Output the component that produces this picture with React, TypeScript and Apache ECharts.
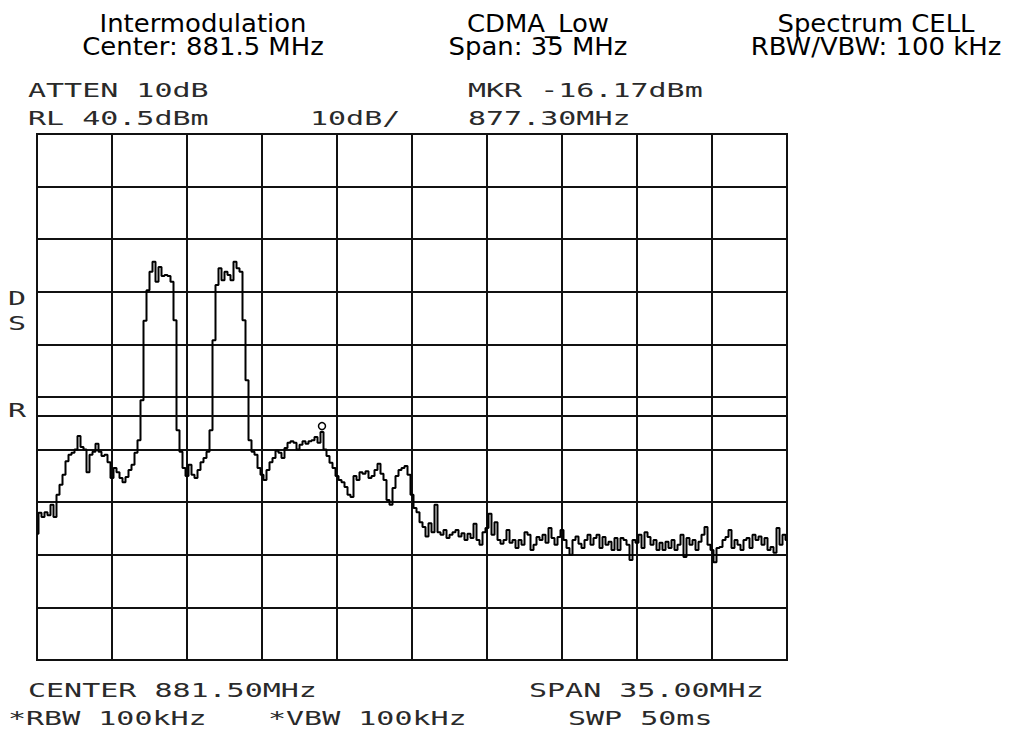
import React, { useEffect, useRef } from "react";
import * as echarts from "echarts";

// Sweep settings (from the analyzer annotation)
const START_MHZ = 864;
const STOP_MHZ = 899;
const REF_LEVEL_DBM = 40.5;
const DB_PER_DIV = 10;
const DIVISIONS = 10;
const DISPLAY_LINE_DBM = -13.1;
const MARKER_MHZ = 877.3;
const MARKER_DBM = -16.17;

// Trace amplitude (dBm), uniformly spaced sweep points from START to STOP
const traceDbm = [
  -35.5, -31.5, -32.3, -31.4, -32.0, -30.0, -32.3, -28.1, -26.2, -24.3,
  -21.7, -20.5, -20.1, -19.5, -16.9, -19.0, -19.5, -23.8, -20.5, -19.9,
  -18.4, -19.9, -20.7, -20.5, -21.9, -24.9, -23.0, -23.8, -24.9, -25.7,
  -24.7, -23.4, -22.4, -20.1, -17.7, -10.1, 5.0, 10.8, 14.3, 16.2,
  12.4, 15.2, 13.5, 13.7, 13.5, 12.4, 5.1, -15.8, -19.9, -23.0,
  -24.5, -22.4, -24.3, -24.9, -23.4, -21.9, -21.1, -19.9, -15.8, 1.3,
  11.8, 15.0, 12.7, 14.3, 13.7, 12.7, 16.2, 15.0, 14.3, 5.1,
  -6.3, -17.7, -19.9, -20.5, -23.0, -24.3, -25.3, -23.4, -21.9, -21.1,
  -19.7, -20.1, -21.1, -19.2, -18.2, -17.9, -18.2, -19.5, -18.6, -17.9,
  -18.4, -17.9, -17.7, -17.1, -18.2, -16.17, -19.5, -20.7, -22.0, -23.0,
  -24.5, -25.3, -25.7, -26.6, -28.1, -28.5, -24.5, -25.3, -23.8, -24.1,
  -23.6, -24.9, -24.5, -23.4, -22.2, -24.1, -25.3, -29.1, -30.0, -26.8,
  -24.5, -23.4, -23.0, -22.6, -24.3, -28.1, -30.6, -31.4, -33.3, -34.2,
  -36.0, -33.5, -35.2, -30.0, -35.2, -35.7, -34.8, -36.3, -35.7, -35.2,
  -34.8, -36.0, -35.4, -36.7, -35.5, -36.3, -33.6, -36.7, -37.6, -35.2,
  -34.4, -31.7, -35.7, -33.3, -36.7, -37.4, -36.7, -34.8, -37.2, -36.7,
  -38.2, -36.7, -37.6, -35.2, -35.7, -38.6, -37.6, -36.1, -36.7, -35.7,
  -37.2, -34.4, -36.3, -37.6, -36.1, -34.8, -36.7, -38.2, -39.5, -36.7,
  -36.0, -37.4, -38.2, -36.7, -35.7, -37.6, -36.3, -35.7, -38.2, -36.1,
  -37.6, -37.0, -38.6, -36.3, -38.6, -36.3, -36.7, -37.6, -40.5, -36.7,
  -37.2, -35.7, -38.2, -35.2, -36.1, -37.6, -36.7, -38.6, -37.2, -38.6,
  -37.0, -38.2, -36.7, -38.6, -37.6, -35.7, -39.9, -36.3, -37.6, -36.7,
  -38.6, -37.0, -35.7, -34.2, -37.6, -38.6, -40.9, -38.2, -38.0, -36.7,
  -36.1, -34.8, -38.2, -36.7, -37.6, -38.6, -36.7, -36.3, -38.2, -35.7,
  -36.7, -36.0, -37.6, -36.3, -38.6, -38.0, -39.1, -34.4, -37.6, -35.7,
  -36.7,
];

// Header texts
const titleColumns = [
  ["Intermodulation", "Center: 881.5 MHz"],
  ["CDMA_Low", "Span: 35 MHz"],
  ["Spectrum CELL", "RBW/VBW: 100 kHz"],
];
const annotTop = ["ATTEN 10dB", "RL 40.5dBm", "10dB/", "MKR -16.17dBm", "877.30MHz"];
const annotBottom = ["CENTER 881.50MHz", "SPAN 35.00MHz", "*RBW 100kHz", "*VBW 100kHz", "SWP 50ms"];
const sideMarks = ["D", "S", "R"];

export default function App() {
  const ref = useRef<HTMLDivElement>(null);
  useEffect(() => {
    document.body.style.margin = "0";
    const chart = echarts.init(ref.current!, null, { renderer: "svg" });
    const n = traceDbm.length;
    const data = traceDbm.map((v, i) => [START_MHZ + ((STOP_MHZ - START_MHZ) * i) / (n - 1), v]);

    const titleX = [203, 538, 876];
    const titles: any[] = titleColumns.map((col, c) => ({
      type: "text",
      x: titleX[c],
      y: 35,
      scaleX: 1.08,
      style: {
        text: col.join("\n"),
        fontFamily: "DejaVu Sans",
        fontSize: 24,
        lineHeight: 23,
        fill: "#000",
        textAlign: "center",
        textVerticalAlign: "middle",
      },
    }));

    const hp = (text: string, x: number, y: number) => ({
      type: "text",
      x,
      y,
      scaleX: 1.5,
      style: {
        text,
        fontFamily: "DejaVu Sans Mono",
        fontSize: 20,
        fill: "#2a2a2a",
        textAlign: "left",
        textVerticalAlign: "middle",
      },
    });

    const hpTexts = [
      hp(annotTop[0], 28, 90),
      hp(annotTop[1], 28, 118),
      hp(annotTop[2], 310, 118),
      hp(annotTop[3], 468, 90),
      hp(annotTop[4], 468, 118),
      hp(annotBottom[0], 28, 690),
      hp(annotBottom[1], 529, 690),
      hp(annotBottom[2], 8, 718),
      hp(annotBottom[3], 268, 718),
      hp(annotBottom[4], 568, 718),
      hp(sideMarks[0], 8, 298),
      hp(sideMarks[1], 8, 323),
      hp(sideMarks[2], 8, 410),
    ];

    const divAxis = {
      type: "value",
      min: 0,
      max: DIVISIONS,
      interval: 1,
      axisLabel: { show: false },
      axisTick: { show: false },
      axisLine: { show: false },
      splitLine: { show: true, lineStyle: { color: "#111", width: 2 } },
    };

    chart.setOption({
      animation: false,
      backgroundColor: "#fff",
      grid: {
        left: 37,
        top: 134,
        width: 750,
        height: 526,
        show: true,
        borderColor: "#111",
        borderWidth: 2,
        backgroundColor: "#fff",
      },
      xAxis: [
        { type: "value", min: START_MHZ, max: STOP_MHZ, show: false },
        { ...divAxis },
      ],
      yAxis: [
        {
          type: "value",
          min: REF_LEVEL_DBM - DB_PER_DIV * DIVISIONS,
          max: REF_LEVEL_DBM,
          show: false,
        },
        { ...divAxis },
      ],
      graphic: [...titles, ...hpTexts],
      series: [
        {
          type: "line",
          xAxisIndex: 0,
          yAxisIndex: 0,
          data,
          step: "middle",
          showSymbol: false,
          symbol: "none",
          lineStyle: { color: "#000", width: 2 },
          markLine: {
            silent: true,
            symbol: "none",
            label: { show: false },
            lineStyle: { color: "#111", width: 2, type: "solid" },
            data: [{ yAxis: DISPLAY_LINE_DBM }],
          },
          markPoint: {
            silent: true,
            symbol: "circle",
            symbolSize: 7,
            symbolOffset: [0, -6],
            label: { show: false },
            itemStyle: { color: "#fff", borderColor: "#000", borderWidth: 1.5 },
            data: [{ coord: [MARKER_MHZ, MARKER_DBM] }],
          },
        },
      ],
    });
    return () => chart.dispose();
  }, []);
  return <div ref={ref} style={{ width: 1011, height: 730 }} />;
}
